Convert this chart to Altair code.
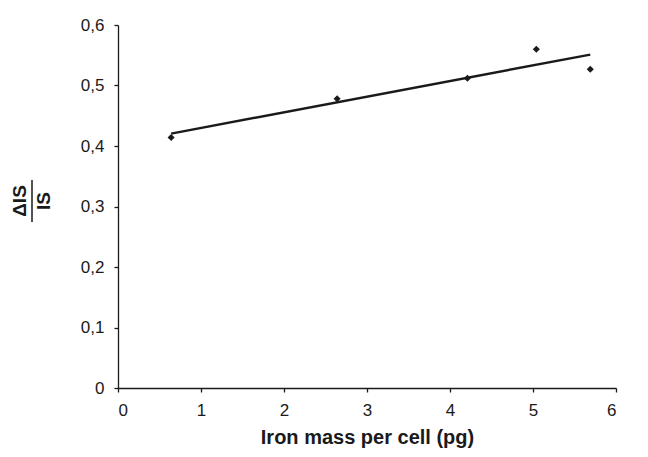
import altair as alt
import pandas as pd

iron_mass = [0.64, 2.64, 4.21, 5.04, 5.69]
delta_ratio = [0.414, 0.478, 0.512, 0.560, 0.527]

df = pd.DataFrame({"x": iron_mass, "y": delta_ratio})

FONT = "Liberation Sans"
INK = "#1a1a1a"

xs = alt.Scale(domain=[0, 6], nice=False, zero=True)
ys = alt.Scale(domain=[0, 0.6], nice=False)

label_expr = "datum.value == 0 ? '0' : replace(format(datum.value, '.1f'), '.', ',')"

base = alt.Chart(df)

points = base.mark_point(shape="diamond", filled=True, size=50, color=INK, opacity=1).encode(
    x=alt.X("x:Q", scale=xs,
            axis=alt.Axis(title="Iron mass per cell (pg)", values=[0, 1, 2, 3, 4, 5, 6],
                          format="d", grid=False, tickSize=4, labelPadding=10,
                          labelFontSize=17, titleFontSize=20, titleFontWeight="bold",
                          titlePadding=9)),
    y=alt.Y("y:Q", scale=ys,
            axis=alt.Axis(title=None, values=[0, 0.1, 0.2, 0.3, 0.4, 0.5, 0.6],
                          labelExpr=label_expr, grid=False, tickSize=4, labelPadding=10,
                          labelFontSize=17)),
)

line = base.transform_regression("x", "y").mark_line(color=INK, strokeWidth=2.4).encode(
    x=alt.X("x:Q", scale=xs), y=alt.Y("y:Q", scale=ys)
)

t_top = alt.Chart(pd.DataFrame({"t": ["ΔIS"]})).mark_text(
    angle=270, align="center", baseline="middle", fontSize=19, fontWeight="bold",
    font=FONT, color=INK
).encode(text="t:N", x=alt.value(-98), y=alt.value(176))

t_bot = alt.Chart(pd.DataFrame({"t": ["IS"]})).mark_text(
    angle=270, align="center", baseline="middle", fontSize=19, fontWeight="bold",
    font=FONT, color=INK
).encode(text="t:N", x=alt.value(-74), y=alt.value(176))

bar = alt.Chart(pd.DataFrame({"a": [0]})).mark_rule(color=INK, strokeWidth=1.5).encode(
    x=alt.value(-86), y=alt.value(155), y2=alt.value(197)
)

chart = (line + points + t_top + t_bot + bar).properties(
    width=498, height=363,
    autosize=alt.AutoSizeParams(type="none"),
    padding={"left": 110, "top": 17, "right": 10, "bottom": 61},
).configure_view(stroke=None, clip=False).configure_axis(
    domainColor=INK, domainWidth=1.3, tickColor=INK, tickWidth=1.3,
    labelColor=INK, titleColor=INK, labelFont=FONT, titleFont=FONT,
)

chart.save("out.html", embed_options={"renderer": "svg", "actions": False})
